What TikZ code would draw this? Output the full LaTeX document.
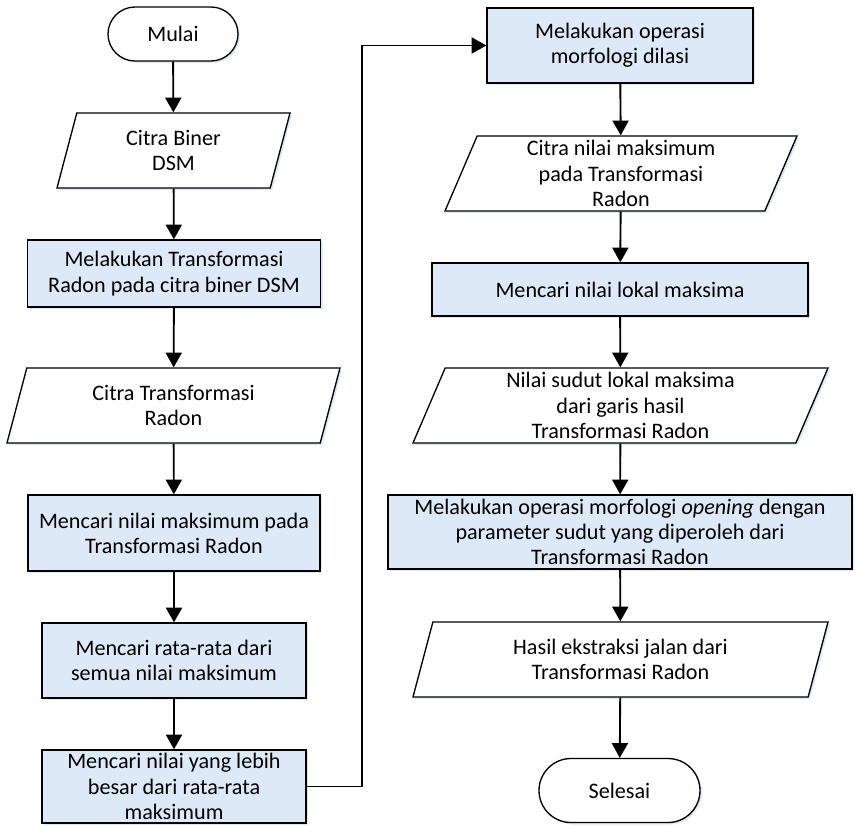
\documentclass[tikz,border=0pt]{standalone}
\usepackage{fontspec}
\setmainfont{Carlito}
\usepackage{tikz}
\usetikzlibrary{arrows.meta}
\usetikzlibrary{shapes.geometric,shapes.misc}
\usetikzlibrary{shadows}
\usepackage{xcolor}
\definecolor{procfill}{RGB}{221,233,246}
\definecolor{shadecol}{RGB}{200,218,240}
\def\pxu{0.75pt}
\tikzset{
  base/.style={draw=black,line width=1pt,inner sep=0pt,align=center,
    font=\fontsize{16.6}{18.9}\selectfont,
    drop shadow={shadow xshift=1.5pt,shadow yshift=-1.5pt,fill=shadecol,opacity=0.6}},
  term/.style={base,rounded rectangle,fill=white},
  proc/.style={base,rectangle,fill=procfill},
  io/.style={base,trapezium,trapezium left angle=64,trapezium right angle=116,
    trapezium stretches body,fill=white},
  flow/.style={-{Triangle[length=11pt,width=12pt]},line width=1.4pt}
}

\begin{document}
\begin{tikzpicture}[x=0.75pt,y=-0.75pt]
  \useasboundingbox (0,0) rectangle (857,825);

  % left column
  \node[term,minimum width=130*\pxu,minimum height=54*\pxu] (mulai) at (173,34) {Mulai};
  \node[io,minimum width=233*\pxu,minimum height=75*\pxu] (citra) at (173.5,150.5) {Citra Biner\\DSM};
  \node[proc,minimum width=293*\pxu,minimum height=67*\pxu] (radon) at (174,273.5)
    {Melakukan Transformasi\\Radon pada citra biner DSM};
  \node[io,minimum width=333*\pxu,minimum height=75*\pxu] (citratr) at (173.5,405.5)
    {Citra Transformasi\\Radon};
  \node[proc,minimum width=292*\pxu,minimum height=76*\pxu] (maks) at (174,533)
    {Mencari nilai maksimum pada\\Transformasi Radon};
  \node[proc,minimum width=264*\pxu,minimum height=75*\pxu] (rata) at (174,660.5)
    {Mencari rata-rata dari\\semua nilai maksimum};
  \node[proc,minimum width=264*\pxu,minimum height=73*\pxu] (lebih) at (174,786.5)
    {Mencari nilai yang lebih\\besar dari rata-rata\\maksimum};

  % right column
  \node[proc,minimum width=266*\pxu,minimum height=75*\pxu] (dilasi) at (620,45.5)
    {Melakukan operasi\\morfologi dilasi};
  \node[io,minimum width=352*\pxu,minimum height=75*\pxu] (citramaks) at (621,173.5)
    {Citra nilai maksimum\\pada Transformasi\\Radon};
  \node[proc,minimum width=376*\pxu,minimum height=53*\pxu] (lokal) at (620,289.5)
    {Mencari nilai lokal maksima};
  \node[io,minimum width=415*\pxu,minimum height=75*\pxu] (sudut) at (620.5,405.5)
    {Nilai sudut lokal maksima\\dari garis hasil\\Transformasi Radon};
  \node[proc,minimum width=464*\pxu,minimum height=74*\pxu] (opening) at (620,532)
    {Melakukan operasi morfologi \textit{opening} dengan\\parameter sudut yang diperoleh dari\\Transformasi Radon};
  \node[io,minimum width=415*\pxu,minimum height=75*\pxu] (hasil) at (620.5,659.5)
    {Hasil ekstraksi jalan dari\\Transformasi Radon};
  \node[term,minimum width=161*\pxu,minimum height=64*\pxu] (selesai) at (619.5,790.5) {Selesai};

  \coordinate (turn) at (362,0);

  % arrows
  \draw[flow] (mulai) -- (citra);
  \draw[flow] (citra) -- (radon);
  \draw[flow] (radon) -- (citratr);
  \draw[flow] (citratr) -- (maks);
  \draw[flow] (maks) -- (rata);
  \draw[flow] (rata) -- (lebih);
  \draw[flow] (lebih.east) -- (lebih.east -| turn) |- (dilasi.west);
  \draw[flow] (dilasi) -- (citramaks);
  \draw[flow] (citramaks) -- (lokal);
  \draw[flow] (lokal) -- (sudut);
  \draw[flow] (sudut) -- (opening);
  \draw[flow] (opening) -- (hasil);
  \draw[flow] (hasil) -- (selesai);
\end{tikzpicture}
\end{document}
